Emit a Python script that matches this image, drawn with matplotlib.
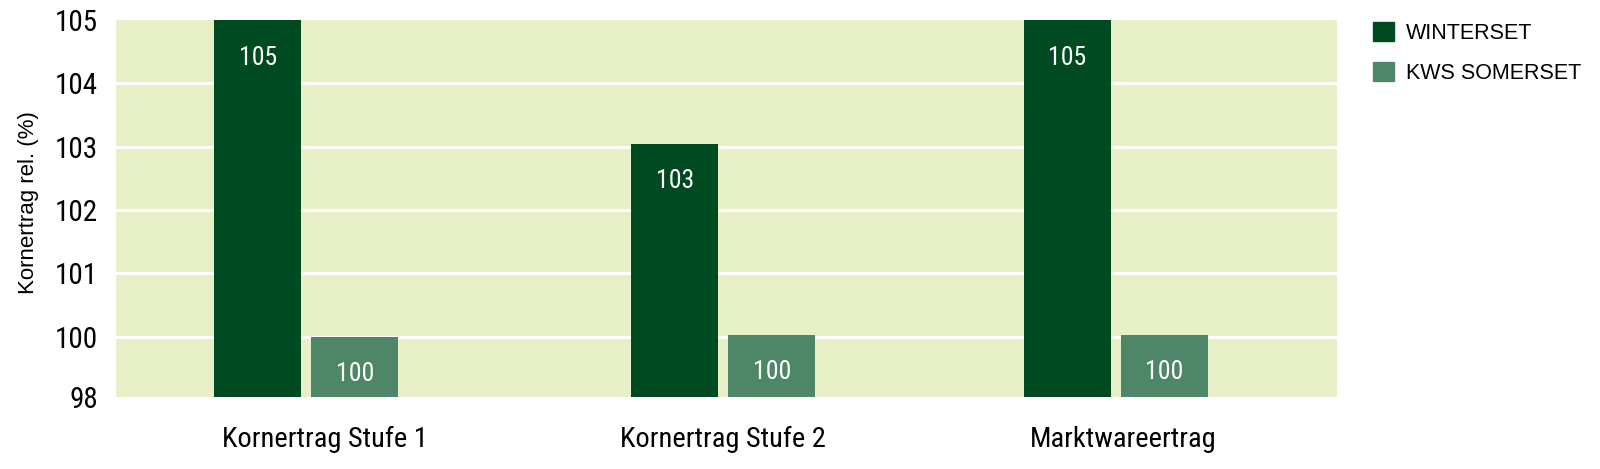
"""
Kornertrag relativ - WINTERSET vs KWS SOMERSET
Grouped bar chart with broken y-axis label at the bottom
"""
import matplotlib
matplotlib.use("Agg")
import matplotlib.pyplot as plt
import matplotlib.patches as mpatches
from matplotlib import font_manager

# Data
categories = ['Kornertrag Stufe 1', 'Kornertrag Stufe 2', 'Marktwareertrag']
winterset = [105, 103.05, 105]
somerset = [100, 100.03, 100.03]
winterset_labels = ['105', '103', '105']
somerset_labels = ['100', '100', '100']
series_names = ['WINTERSET', 'KWS SOMERSET']
ytick_values = [99.05, 100, 101, 102, 103, 104, 105]
ytick_labels = ['98', '100', '101', '102', '103', '104', '105']

DARK = '#004A22'
LIGHT = '#4E8767'
BG = '#E8F0C8'

# Pick a narrow font if there is one
available = {f.name for f in font_manager.fontManager.ttflist}
narrow = 'DejaVu Sans'
for name in ['Liberation Sans Narrow', 'Roboto Condensed', 'Roboto']:
    if name in available:
        narrow = name
        break
wide = 'Liberation Sans' if 'Liberation Sans' in available else 'DejaVu Sans'
plt.rcParams['font.family'] = narrow

fig = plt.figure(figsize=(16, 4.69), dpi=100)
ax = fig.add_axes([116 / 1600, 1 - 397 / 469, (1337 - 116) / 1600, (397 - 20) / 469])
ax.set_facecolor(BG)

# group positions (the original is not evenly spaced)
x = [0, 1.03, 2]
label_x = [0.045, 1.03, 2.017]
width = 0.215
offset = 0.12
base = ytick_values[0]

bars1 = ax.bar([i - offset for i in x], [v - base for v in winterset], width,
               bottom=base, color=DARK, zorder=3)
bars2 = ax.bar([i + offset for i in x], [v - base for v in somerset], width,
               bottom=base, color=LIGHT, zorder=3)

for bars, labels in ((bars1, winterset_labels), (bars2, somerset_labels)):
    for b, lab in zip(bars, labels):
        ax.annotate(lab, (b.get_x() + b.get_width() / 2, b.get_y() + b.get_height()),
                    xytext=(0, -27), textcoords='offset points',
                    ha='center', va='center', color='white', fontsize=18.5, zorder=4)

# Grid lines (white) between 100 and 104
for y in ytick_values[1:-1]:
    ax.axhline(y, color='white', linewidth=2.2, zorder=2)

ax.set_ylim(base, 105)
ax.set_xlim(-0.47, 2.546)
ax.set_yticks(ytick_values)
ax.set_yticklabels(ytick_labels, fontsize=21)
ax.set_xticks(label_x)
ax.set_xticklabels(categories, fontsize=20.5)
ax.tick_params(axis='both', length=0)
ax.tick_params(axis='y', pad=13)
ax.tick_params(axis='x', pad=21)
for s in ax.spines.values():
    s.set_visible(False)

ax.set_ylabel('Kornertrag rel. (%)', fontsize=16, family=wide)
ax.yaxis.set_label_coords((39 - 116) / 1221, 0.515)

# Legend
handles = [mpatches.Patch(color=DARK, label=series_names[0]),
           mpatches.Patch(color=LIGHT, label=series_names[1])]
fig.legend(handles=handles, loc='upper left', bbox_to_anchor=(1354 / 1600, 1 - 3 / 469),
           frameon=False, prop={'family': wide, 'size': 15.5}, handlelength=0.95,
           handleheight=0.95, handletextpad=0.55, labelspacing=0.85)

plt.savefig('out.png', dpi=100, facecolor='white')
plt.close()
